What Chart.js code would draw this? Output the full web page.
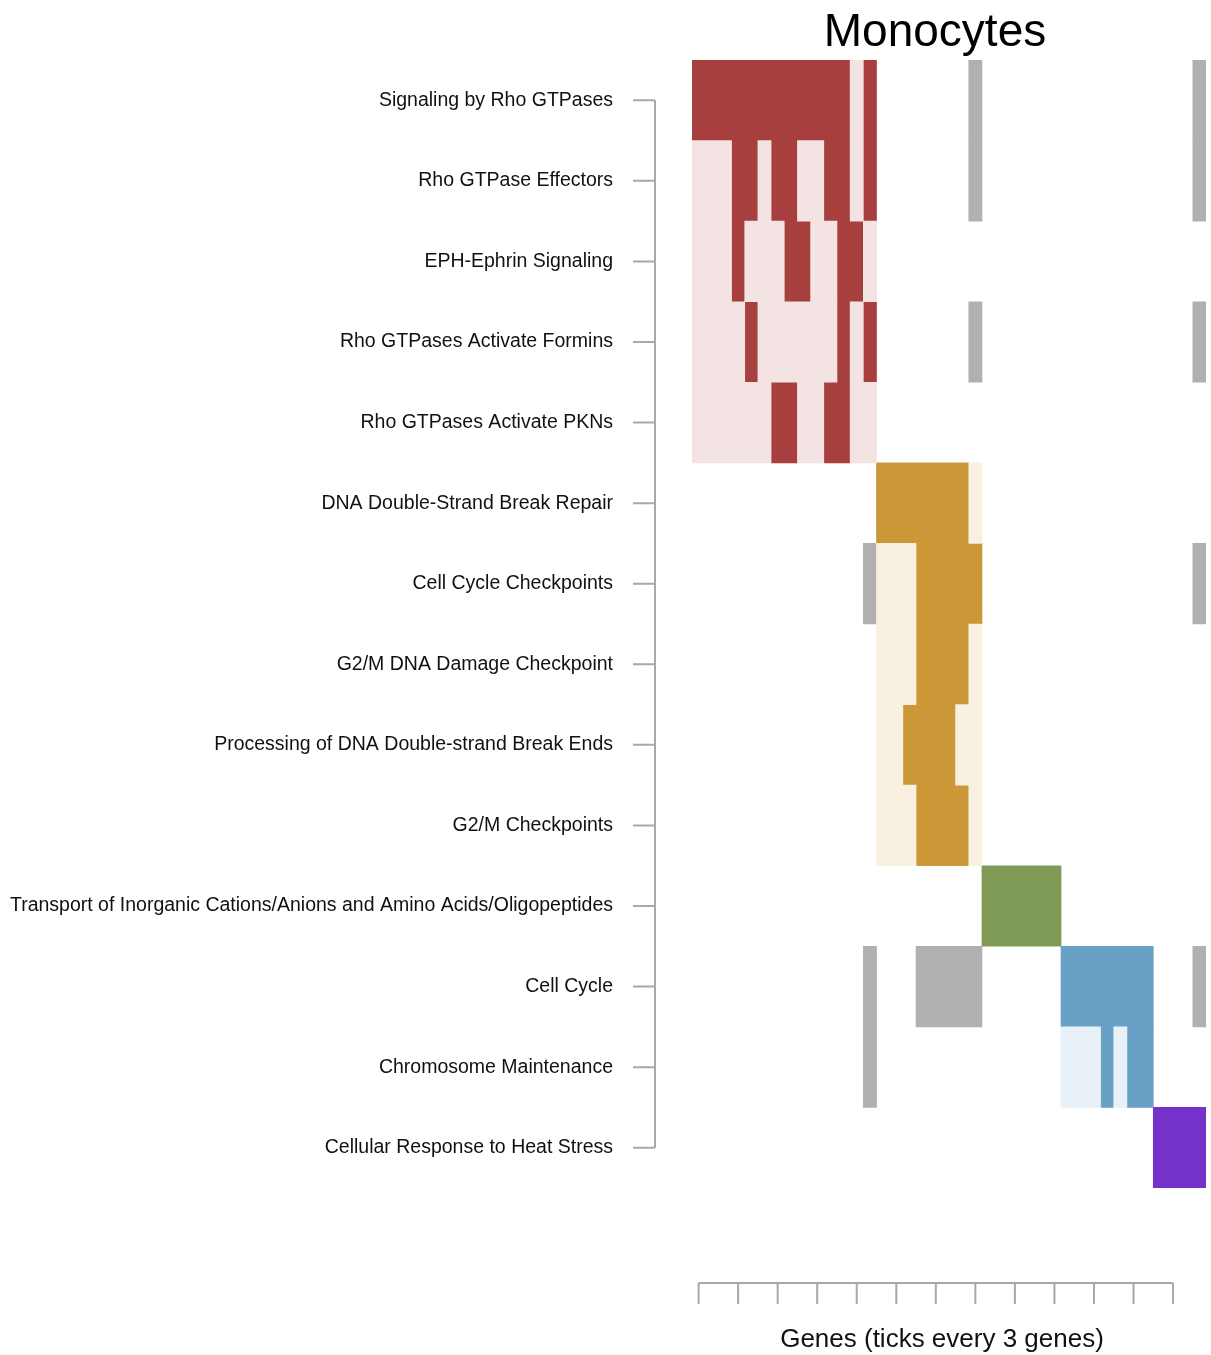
<!DOCTYPE html>
<html>
<head>
<meta charset="utf-8">
<script src="https://cdn.jsdelivr.net/npm/chart.js@4/dist/chart.umd.min.js"></script>
<style>
  html, body { margin: 0; padding: 0; background: #ffffff; }
  #wrap { width: 1211px; height: 1355px; position: relative; }
</style>
</head>
<body>
<div id="wrap"><canvas id="c"></canvas></div>
<script>
// ---------------- DATA ----------------
const chartTitle = 'Monocytes';
const xAxisTitle = 'Genes (ticks every 3 genes)';

const pathways = [
  'Signaling by Rho GTPases',
  'Rho GTPase Effectors',
  'EPH-Ephrin Signaling',
  'Rho GTPases Activate Formins',
  'Rho GTPases Activate PKNs',
  'DNA Double-Strand Break Repair',
  'Cell Cycle Checkpoints',
  'G2/M DNA Damage Checkpoint',
  'Processing of DNA Double-strand Break Ends',
  'G2/M Checkpoints',
  'Transport of Inorganic Cations/Anions and Amino Acids/Oligopeptides',
  'Cell Cycle',
  'Chromosome Maintenance',
  'Cellular Response to Heat Stress'
];

// module (colour group) of each pathway row
const rowModule = ['red','red','red','red','red',
                   'gold','gold','gold','gold','gold',
                   'green','blue','blue','purple'];

// gene membership per row, 39 genes written in groups of 3
// 0 = not in pathway, 1 = in pathway (light), 2 = module gene (dark), 3 = gene of another module (grey)
const membership = [
  '222 222 222 222 120 000 000 300 000 000 000 000 003',
  '111 221 221 122 120 000 000 300 000 000 000 000 003',
  '111 211 122 112 210 000 000 000 000 000 000 000 000',
  '111 121 111 112 120 000 000 300 000 000 000 000 003',
  '111 111 221 122 110 000 000 000 000 000 000 000 000',
  '000 000 000 000 002 222 222 100 000 000 000 000 000',
  '000 000 000 000 031 112 222 200 000 000 000 000 003',
  '000 000 000 000 001 112 222 100 000 000 000 000 000',
  '000 000 000 000 001 122 221 100 000 000 000 000 000',
  '000 000 000 000 001 112 222 100 000 000 000 000 000',
  '000 000 000 000 000 000 000 022 222 200 000 000 000',
  '000 000 000 000 030 003 333 300 000 022 222 220 003',
  '000 000 000 000 030 000 000 000 000 011 121 220 000',
  '000 000 000 000 000 000 000 000 000 000 000 002 222'
];

const tickEvery = 3;

// colours
const darkColors  = { red:'#A83F3F', gold:'#CC9736', green:'#7E9A55', blue:'#68A0C6', purple:'#7532CA' };
const lightColors = { red:'#F3E3E3', gold:'#F8F0E1', green:'#EEF2E8', blue:'#E8F1F8', purple:'#EFE6F9' };
const greyColor = '#B0B0B0';
const axisColor = '#A8A8A8';

// ---------------- BUILD ----------------
const rows = membership.map(s => s.replace(/\s+/g, '').split('').map(Number));
const nGenes = rows[0].length;

const darkData = [], darkBg = [];
const lightData = [], lightBg = [];
const greyData = [];
rows.forEach((codes, r) => {
  let i = 0;
  while (i < codes.length) {
    const c = codes[i];
    let j = i;
    while (j < codes.length && codes[j] === c) j++;
    if (c !== 0) {
      const item = { x: [i, j], y: pathways[r] };
      if (c === 2) { darkData.push(item); darkBg.push(darkColors[rowModule[r]]); }
      else if (c === 1) { lightData.push(item); lightBg.push(lightColors[rowModule[r]]); }
      else if (c === 3) { greyData.push(item); }
    }
    i = j;
  }
});

const common = { grouped: false, barPercentage: 1, categoryPercentage: 1, borderWidth: 0, borderSkipped: false };

const decor = {
  id: 'decor',
  afterDraw(chart) {
    const ctx = chart.ctx, x = chart.scales.x, y = chart.scales.y, a = chart.chartArea;
    ctx.save();
    ctx.strokeStyle = axisColor;
    ctx.lineWidth = 2;
    // y axis (detached, R style)
    const ax = a.left - 37;
    const y0 = y.getPixelForValue(0), y1 = y.getPixelForValue(pathways.length - 1);
    ctx.beginPath();
    ctx.moveTo(ax, y0); ctx.lineTo(ax, y1);
    for (let i = 0; i < pathways.length; i++) {
      const py = y.getPixelForValue(i);
      ctx.moveTo(ax, py); ctx.lineTo(ax - 22, py);
    }
    ctx.stroke();
    // x axis (ticks at the centre of every 3rd gene)
    const ay = a.bottom + 95;
    const ticks = [];
    for (let g = 0; g * tickEvery < nGenes - 2; g++) ticks.push(0.5 + g * tickEvery);
    ctx.beginPath();
    ctx.moveTo(x.getPixelForValue(ticks[0]), ay);
    ctx.lineTo(x.getPixelForValue(ticks[ticks.length - 1]), ay);
    ticks.forEach(t => {
      const px = x.getPixelForValue(t);
      ctx.moveTo(px, ay); ctx.lineTo(px, ay + 21);
    });
    ctx.stroke();
    // titles
    ctx.fillStyle = '#000000';
    ctx.textAlign = 'center';
    ctx.textBaseline = 'middle';
    ctx.font = '46px "Liberation Sans", Arial, sans-serif';
    ctx.fillText(chartTitle, 935, 33);
    ctx.fillStyle = '#111111';
    ctx.font = '26px "Liberation Sans", Arial, sans-serif';
    ctx.fillText(xAxisTitle, 942, 1340);
    ctx.restore();
  }
};

new Chart(document.getElementById('c'), {
  type: 'bar',
  data: {
    labels: pathways,
    datasets: [
      Object.assign({ label: 'Pathway genes', data: lightData, backgroundColor: lightBg }, common),
      Object.assign({ label: 'Module genes', data: darkData, backgroundColor: darkBg }, common),
      Object.assign({ label: 'Other module genes', data: greyData, backgroundColor: greyColor }, common)
    ]
  },
  options: {
    indexAxis: 'y',
    responsive: true,
    maintainAspectRatio: false,
    animation: false,
    layout: { padding: { left: 0, right: 5, top: 60, bottom: 167 } },
    plugins: { legend: { display: false }, tooltip: { enabled: false }, title: { display: false } },
    scales: {
      x: { type: 'linear', min: 0, max: nGenes, display: false },
      y: {
        type: 'category',
        labels: pathways,
        offset: true,
        grid: { display: false, drawTicks: false },
        border: { display: false },
        ticks: {
          padding: 79,
          color: '#111111',
          font: { family: '"Liberation Sans", Arial, sans-serif', size: 19.5 },
          autoSkip: false
        },
        afterFit(scale) {
          scale.width = 692;
          scale.paddingTop = 0;
          scale.paddingBottom = 0;
        }
      }
    }
  },
  plugins: [decor]
});
</script>
</body>
</html>
